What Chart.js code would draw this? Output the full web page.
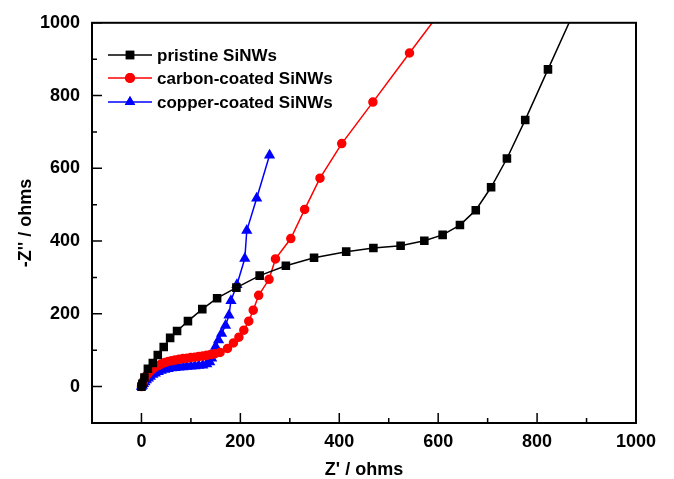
<!DOCTYPE html>
<html>
<head>
<meta charset="utf-8">
<script src="https://cdn.jsdelivr.net/npm/chart.js@4/dist/chart.umd.min.js"></script>
<style>
  body { margin: 0; background: #fff; }
  #wrap { width: 674px; height: 479px; }
</style>
</head>
<body>
<div id="wrap"><canvas id="eis" width="674" height="479"></canvas></div>
<script>
// Nyquist data (ohms)
const pristineX = [0, 2, 6, 13, 23, 33, 45, 58, 72, 94, 123, 153, 192, 239, 292, 349, 414, 469, 524, 572, 609, 644, 676, 707, 739, 776, 822, 878];
const pristineY = [0, 8, 25, 49, 65, 87, 109, 134, 153, 180, 213, 243, 272, 305, 332, 354, 371, 381, 387, 401, 417, 444, 485, 548, 627, 733, 872, 1040];

const carbonX = [0, 2, 4, 7, 10, 14, 18, 23, 28, 34, 40, 47, 54, 61, 68, 76, 84, 92, 100, 108, 116, 124, 132, 140, 148, 159, 174, 186, 197, 207, 217, 226, 237, 258, 271, 302, 330, 361, 405, 468, 542, 610];
const carbonY = [0, 8, 15, 22, 30, 37, 43, 49, 54, 58, 62, 66, 69, 71, 73, 75, 77, 78, 80, 81, 83, 84, 86, 88, 90, 94, 105, 120, 136, 155, 180, 210, 251, 295, 351, 407, 487, 573, 668, 782, 917, 1040];

const copperX = [0, 2, 4, 7, 10, 14, 18, 23, 28, 34, 40, 47, 54, 61, 68, 76, 84, 92, 100, 108, 116, 124, 132, 138, 142, 146, 150, 156, 162, 170, 177, 181, 193, 209, 213, 233, 259];
const copperY = [0, 3, 8, 13, 18, 23, 28, 33, 37, 41, 44, 47, 49, 51, 52, 53, 54, 55, 56, 57, 58, 59, 62, 68, 78, 92, 110, 128, 146, 168, 196, 236, 280, 352, 429, 518, 636];

const xTicks = [0, 200, 400, 600, 800, 1000];
const yTicks = [0, 200, 400, 600, 800, 1000];
const xMinor = [-100, 100, 300, 500, 700, 900];
const yMinor = [-100, 100, 300, 500, 700, 900];

const labels = ['pristine SiNWs', 'carbon-coated SiNWs', 'copper-coated SiNWs'];

function pts(xs, ys) {
    return xs.map((x, i) => ({ x: x, y: ys[i] }));
}

const boldFont = { family: 'Arial, "Liberation Sans", sans-serif', weight: 'bold', size: 18 };

// frame, inward ticks and in-plot legend
const framePlugin = {
    id: 'frame',
    afterDraw(chart) {
        const ctx = chart.ctx;
        const a = chart.chartArea;
        const xs = chart.scales.x, ys = chart.scales.y;
        ctx.save();
        ctx.strokeStyle = '#000';
        ctx.lineWidth = 2;
        ctx.strokeRect(a.left, a.top, a.right - a.left, a.bottom - a.top);

        ctx.lineWidth = 1.5;
        ctx.beginPath();
        xTicks.forEach(v => {
            const p = xs.getPixelForValue(v);
            ctx.moveTo(p, a.bottom); ctx.lineTo(p, a.bottom - 10);
        });
        xMinor.forEach(v => {
            const p = xs.getPixelForValue(v);
            ctx.moveTo(p, a.bottom); ctx.lineTo(p, a.bottom - 5);
        });
        yTicks.forEach(v => {
            const p = ys.getPixelForValue(v);
            ctx.moveTo(a.left, p); ctx.lineTo(a.left + 10, p);
        });
        yMinor.forEach(v => {
            const p = ys.getPixelForValue(v);
            ctx.moveTo(a.left, p); ctx.lineTo(a.left + 5, p);
        });
        ctx.stroke();

        // legend
        const x0 = 108, x1 = 152, rowY = [55, 78, 102];
        chart.data.datasets.forEach((ds, i) => {
            const y = rowY[i];
            ctx.strokeStyle = ds.borderColor;
            ctx.lineWidth = ds.borderWidth;
            ctx.beginPath();
            ctx.moveTo(x0, y); ctx.lineTo(x1, y);
            ctx.stroke();
            ctx.fillStyle = ds.pointBackgroundColor;
            Chart.helpers.drawPoint(ctx, {
                pointStyle: ds.pointStyle, radius: ds.pointRadius + 1, borderWidth: 0, rotation: 0
            }, (x0 + x1) / 2, y);
            ctx.fill();
            ctx.fillStyle = '#000';
            ctx.font = 'bold 17px Arial, "Liberation Sans", sans-serif';
            ctx.textBaseline = 'middle';
            ctx.textAlign = 'left';
            ctx.fillText(ds.label, 157, y + 1);
        });
        ctx.restore();
    }
};

new Chart(document.getElementById('eis'), {
    type: 'line',
    data: {
        datasets: [
            {
                label: labels[0],
                data: pts(pristineX, pristineY),
                borderColor: '#000000',
                pointBackgroundColor: '#000000',
                pointBorderColor: '#000000',
                pointStyle: 'rect',
                pointRadius: 5,
                borderWidth: 1.5
            },
            {
                label: labels[1],
                data: pts(carbonX, carbonY),
                borderColor: '#ff0000',
                pointBackgroundColor: '#ff0000',
                pointBorderColor: '#ff0000',
                pointStyle: 'circle',
                pointRadius: 4,
                borderWidth: 1.5
            },
            {
                label: labels[2],
                data: pts(copperX, copperY),
                borderColor: '#0000ff',
                pointBackgroundColor: '#0000ff',
                pointBorderColor: '#0000ff',
                pointStyle: 'triangle',
                pointRadius: 5,
                borderWidth: 1.5
            }
        ]
    },
    options: {
        responsive: false,
        animation: false,
        parsing: false,
        layout: { padding: { left: 0, top: 19, right: 38, bottom: 0 } },
        plugins: {
            legend: { display: false },
            tooltip: { enabled: false }
        },
        elements: { line: { tension: 0 }, point: { borderWidth: 0 } },
        scales: {
            x: {
                type: 'linear',
                min: -100,
                max: 1000,
                grid: { display: false, drawTicks: false },
                border: { display: false },
                afterBuildTicks: s => { s.ticks = xTicks.map(v => ({ value: v })); },
                afterFit: s => { s.height = 56; },
                ticks: { color: '#000', font: boldFont, padding: 8, maxRotation: 0, callback: v => String(v) },
                title: {
                    display: true,
                    text: "Z' / ohms",
                    color: '#000',
                    font: { family: boldFont.family, weight: 'bold', size: 18, lineHeight: 1 },
                    padding: { top: 0, bottom: 0 }
                }
            },
            y: {
                type: 'linear',
                min: -100,
                max: 1000,
                grid: { display: false, drawTicks: false },
                border: { display: false },
                afterBuildTicks: s => { s.ticks = yTicks.map(v => ({ value: v })); },
                afterFit: s => { s.width = 92; },
                ticks: { color: '#000', font: boldFont, padding: 12, callback: v => String(v) },
                title: {
                    display: true,
                    text: "-Z'' / ohms",
                    color: '#000',
                    font: { family: boldFont.family, weight: 'bold', size: 18, lineHeight: 1.2 },
                    padding: { top: 15, bottom: 0 }
                }
            }
        }
    },
    plugins: [framePlugin]
});
</script>
</body>
</html>
